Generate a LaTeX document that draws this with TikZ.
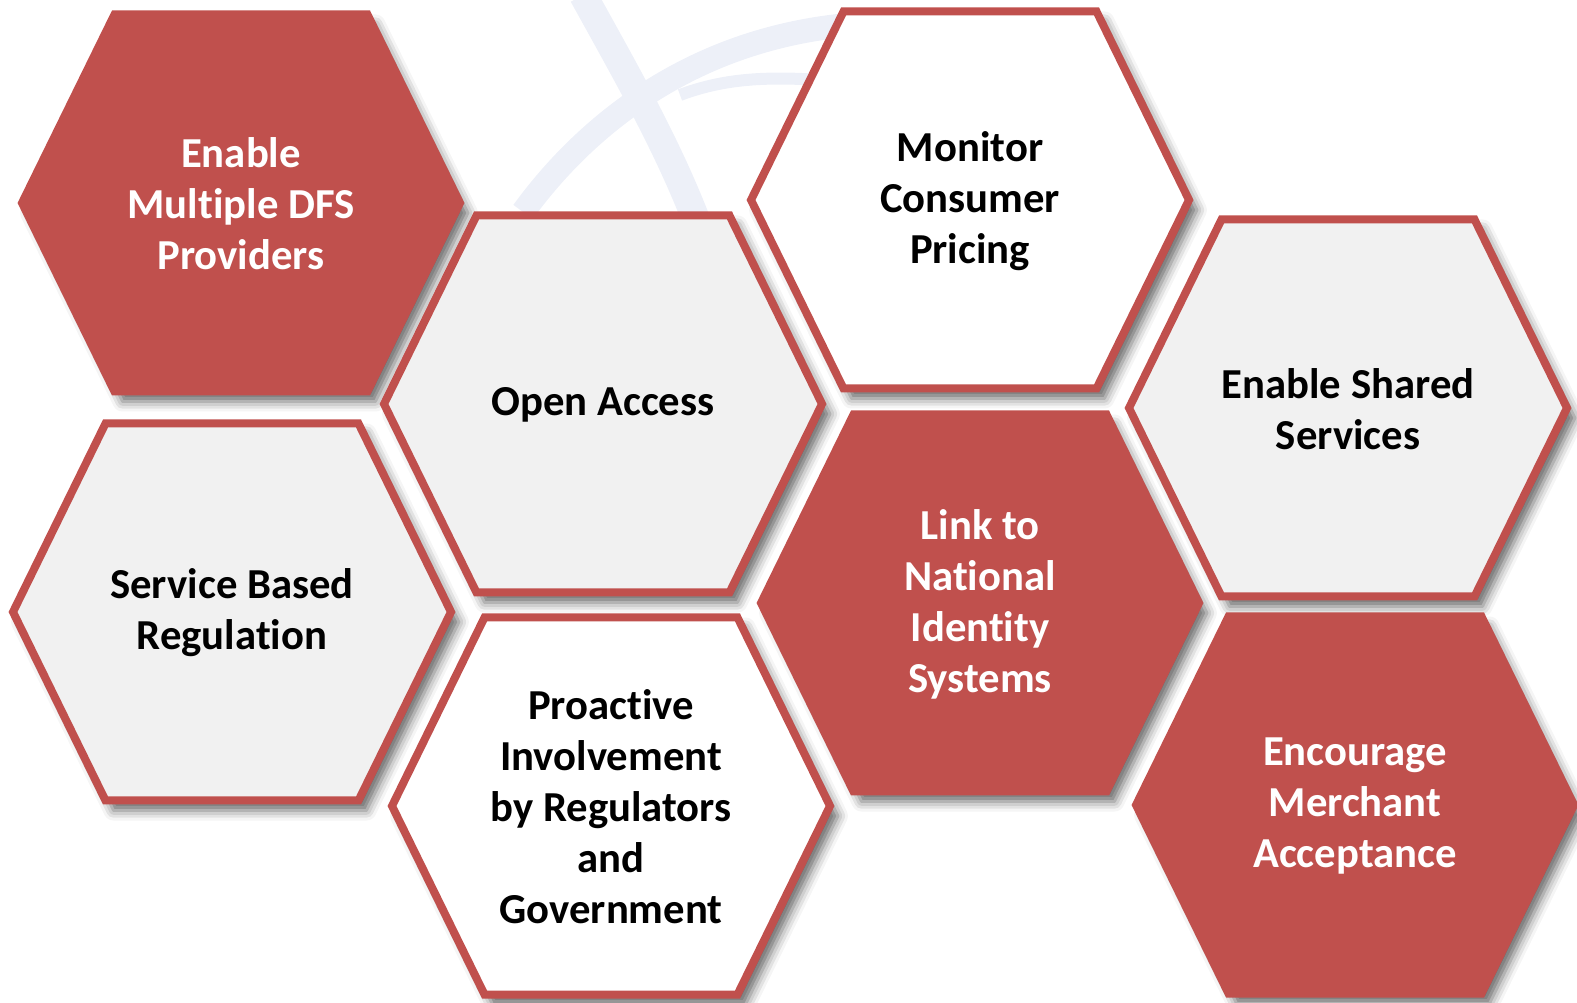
\documentclass[tikz,border=0pt]{standalone}
\usepackage{fontspec}
\setmainfont{Carlito}[BoldFont={Carlito Bold}, Ligatures={CommonOff, ContextualOff, RequiredOff}, Contextuals=AlternateOff]
\definecolor{HexRed}{RGB}{192, 80, 77}
\definecolor{HexGray}{RGB}{241, 241, 241}
\definecolor{MarkBlue}{RGB}{237, 240, 248}
\usetikzlibrary{shadows.blur}

% one hexagon cell around the origin
\newcommand{\hexpath}{(-2.19,0) -- (-1.265,1.885) -- (1.265,1.885) -- (2.19,0) -- (1.265,-1.885) -- (-1.265,-1.885) -- cycle}
\newcommand{\hexcell}[4]{%
  \path[#1hex, shift={#2}] \hexpath;
  \node[#1txt] (#3) at #2 {#4};}

\begin{document}
\begin{tikzpicture}[
            hex/.style={draw=HexRed, line width=0.08cm,
                        blur shadow={shadow xshift=0.08cm, shadow yshift=-0.1cm,
                                     shadow blur radius=0.1cm, shadow opacity=60}},
            redhex/.style={hex, fill=HexRed},
            grayhex/.style={hex, fill=HexGray},
            whitehex/.style={hex, fill=white},
            txt/.style={align=center, yshift=-0.01cm, font=\bfseries\fontsize{12.15}{14.5}\selectfont},
            redtxt/.style={txt, text=white},
            graytxt/.style={txt, text=black},
            whitetxt/.style={txt, text=black},
            wmband/.style={MarkBlue, line width=0.28cm}
        ]
            \useasboundingbox (0,0) rectangle (15.77,-10.03);

            % faint logo behind the cells
            \draw[wmband] (5.83,0.05) .. controls (6.3,-0.8) and (6.7,-1.5) .. (7.0,-2.3);
            \draw[wmband, line width=0.24cm] (5.23,-2.12) .. controls (5.9,-1.2) and (7.0,-0.35) .. (8.6,-0.24);
            \draw[wmband, line width=0.12cm] (6.8,-0.95) .. controls (7.2,-0.8) and (7.6,-0.76) .. (8.2,-0.8);

            \hexcell{red}{(2.41,-2.03)}{dfs}{Enable\\Multiple DFS\\Providers}
            \hexcell{gray}{(6.03,-4.04)}{access}{Open Access}
            \hexcell{white}{(9.70,-2.00)}{pricing}{Monitor\\Consumer\\Pricing}
            \hexcell{gray}{(13.48,-4.08)}{shared}{Enable Shared\\Services}
            \hexcell{gray}{(2.32,-6.12)}{regulation}{Service Based\\Regulation}
            \hexcell{white}{(6.11,-8.06)}{proactive}{Proactive\\Involvement\\by Regulators\\and\\Government}
            \hexcell{red}{(9.80,-6.03)}{identity}{Link to\\National\\Identity\\Systems}
            \hexcell{red}{(13.55,-8.05)}{merchant}{Encourage\\Merchant\\Acceptance}
        \end{tikzpicture}
\end{document}
